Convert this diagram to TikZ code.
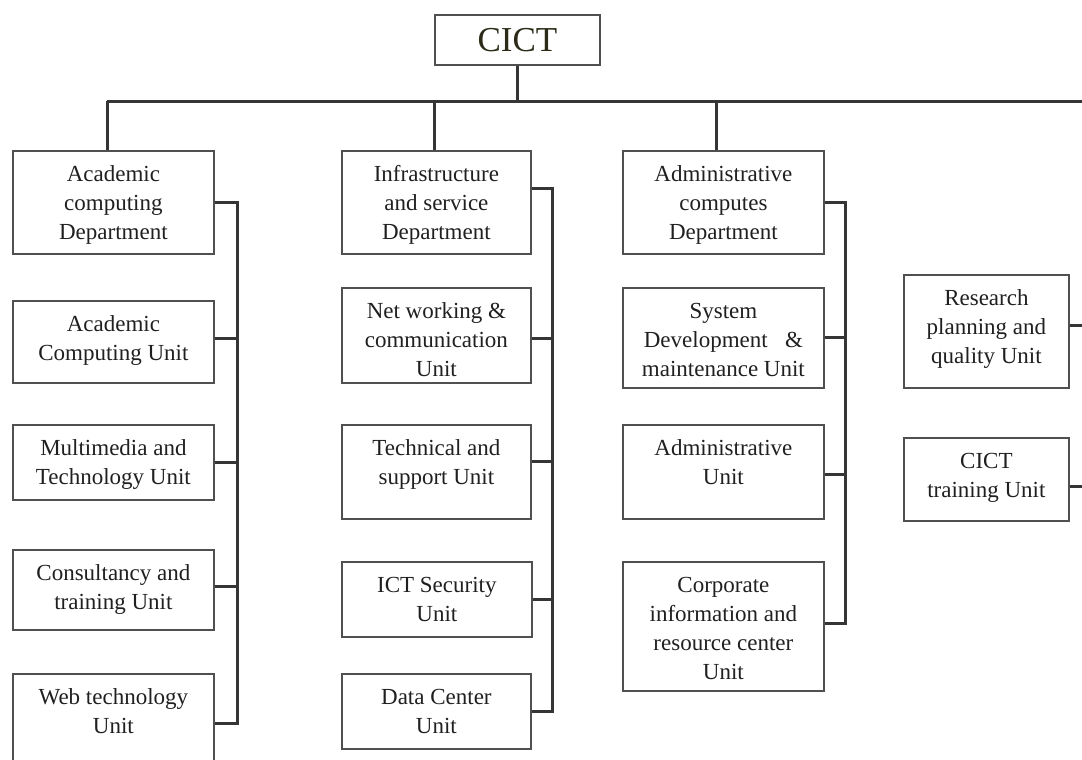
\documentclass[tikz,border=0pt]{standalone}
\usepackage{fontspec}
\setmainfont{Liberation Serif}
\definecolor{boxgray}{HTML}{505050}
\definecolor{linegray}{HTML}{353535}
\definecolor{textgray}{HTML}{202020}
\definecolor{titlecol}{HTML}{2B2B18}
% box with top-aligned, centred lines: name, x, y, width, height, text
\newcommand{\unitnode}[6]{%
  \node[unitbox] (#1) at (#2,#3)
    {\parbox[t][#5pt][t]{#4pt}{\centering\rule{0pt}{31pt}#6}};}
\begin{document}
\begin{tikzpicture}[x=1pt,y=-1pt,
  unitbox/.style={draw=boxgray, line width=1.8pt, inner sep=0pt,
    anchor=north west, font=\fontsize{23}{29}\selectfont, text=textgray},
  link/.style={draw=linegray, line width=3pt},
]
\clip (0,0) rectangle (1082,760);
\fill[white] (0,0) rectangle (1082,760);

% head office
\node[draw=boxgray, line width=1.8pt, inner sep=0pt, anchor=north west,
  minimum width=165pt, minimum height=50pt,
  font=\fontsize{35}{40}\selectfont, text=titlecol] (root) at (434,14) {CICT};

% first column
\unitnode{a1}{12}{150}{201}{103}{Academic\\computing\\Department}
\unitnode{a2}{12}{300}{201}{82}{Academic\\Computing Unit}
\unitnode{a3}{12}{424}{201}{75}{Multimedia and\\Technology Unit}
\unitnode{a4}{12}{549}{201}{80}{Consultancy and\\training Unit}
\unitnode{a5}{12}{673}{201}{100}{Web technology\\Unit}

% second column
\unitnode{b1}{341}{150}{189}{103}{Infrastructure\\and service\\Department}
\unitnode{b2}{341}{287}{189}{95}{Net working \&\\communication\\Unit}
\unitnode{b3}{341}{424}{189}{94}{Technical and\\support Unit}
\unitnode{b4}{341}{561}{190}{75}{ICT Security\\Unit}
\unitnode{b5}{341}{673}{189}{75}{Data Center\\Unit}

% third column
\unitnode{c1}{622}{150}{201}{103}{Administrative\\computes\\Department}
\unitnode{c2}{622}{287}{201}{100}{System\\Development\ \ \ \&\\maintenance Unit}
\unitnode{c3}{622}{424}{201}{94}{Administrative\\Unit}
\unitnode{c4}{622}{561}{201}{129}{Corporate\\information and\\resource center\\Unit}

% fourth column
\unitnode{d1}{903}{274}{165}{113}{Research\\planning and\\quality Unit}
\unitnode{d2}{903}{437}{165}{83}{CICT\\training Unit}

% top bar and drops
\coordinate (barL) at (107,101);
\coordinate (barR) at (1090,101);
\coordinate (dropB) at (434,101);
\coordinate (dropC) at (716,101);
\draw[link] (root.south) -- (root.south |- barL);
\draw[link] (barL) -- (barR);
\draw[link] (barL) -- (barL |- a1.north);
\draw[link] (dropB) -- (dropB |- b1.north);
\draw[link] (dropC) -- (dropC |- c1.north);

% column buses
\coordinate (busA) at (237,0);
\coordinate (busB) at (552,0);
\coordinate (busC) at (845,0);
\coordinate (rim) at (1090,0);

\draw[link] (a1.east) -- (a1.east -| busA) -- (a5.east -| busA) -- (a5.east);
\draw[link] ([yshift=3pt]a2.east) -- ([yshift=3pt]a2.east -| busA);
\draw[link] (a3.east) -- (a3.east -| busA);
\draw[link] ([yshift=3pt]a4.east) -- ([yshift=3pt]a4.east -| busA);

\draw[link] ([yshift=13.5pt]b1.east) -- ([yshift=13.5pt]b1.east -| busB)
  -- (b5.east -| busB) -- (b5.east);
\draw[link] ([yshift=-3.5pt]b2.east) -- ([yshift=-3.5pt]b2.east -| busB);
\draw[link] ([yshift=10pt]b3.east) -- ([yshift=10pt]b3.east -| busB);
\draw[link] (b4.east) -- (b4.east -| busB);

\draw[link] (c1.east) -- (c1.east -| busC) -- ([yshift=2.5pt]c4.east -| busC)
  -- ([yshift=2.5pt]c4.east);
\draw[link] (c2.east) -- (c2.east -| busC);
\draw[link] ([yshift=-3pt]c3.east) -- ([yshift=-3pt]c3.east -| busC);

\draw[link] ([yshift=5.5pt]d1.east) -- ([yshift=5.5pt]d1.east -| rim);
\draw[link] ([yshift=-7.5pt]d2.east) -- ([yshift=-7.5pt]d2.east -| rim);
\end{tikzpicture}
\end{document}
